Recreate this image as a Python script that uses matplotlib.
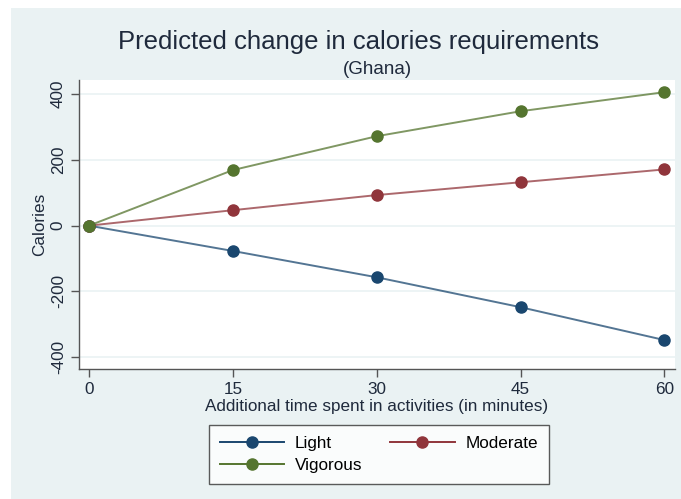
import matplotlib.pyplot as plt
from matplotlib.patches import Rectangle
from matplotlib.lines import Line2D

plt.rcParams['font.family'] = ['Liberation Sans', 'DejaVu Sans']
plt.rcParams['axes.unicode_minus'] = False

# === Data ===
minutes = [0, 15, 30, 45, 60]
light = [0, -77, -157, -248, -348]
moderate = [0, 47, 93, 132, 171]
vigorous = [0, 169, 272, 348, 406]

series = [
    ("Light", light, "#1a476f"),
    ("Moderate", moderate, "#90353b"),
    ("Vigorous", vigorous, "#55752f"),
]

bg = "#eaf2f3"
txt = "#1f2a3c"

fig = plt.figure(figsize=(6.81, 4.99), dpi=100, facecolor="white")
fig.patches.append(Rectangle((11 / 681, 0), 1, 1 - 8 / 499, transform=fig.transFigure,
                             facecolor=bg, edgecolor="none", zorder=-10))

ax = fig.add_axes([79 / 681, 1 - 369 / 499, (675 - 79) / 681, (369 - 80) / 499])
ax.set_facecolor("white")

for name, vals, col in series:
    ax.plot(minutes, vals, color=col, lw=1.4, alpha=0.75, zorder=3)
    ax.plot(minutes, vals, ls="none", marker="o", ms=8, color=col, zorder=4)

ax.set_xlim(-1.04, 61.1)
ax.set_ylim(-436, 443)
ax.set_xticks(minutes)
ax.set_yticks([-400, -200, 0, 200, 400])
ax.grid(axis="y", color=bg, lw=1.2, zorder=0)
ax.set_axisbelow(True)

for s in ["top", "right"]:
    ax.spines[s].set_visible(False)
for s in ["left", "bottom"]:
    ax.spines[s].set_color("#555555")
    ax.spines[s].set_linewidth(1.0)

ax.tick_params(axis="both", colors="#555555", labelcolor=txt, labelsize=12.3, length=6, width=1)
plt.setp(ax.get_yticklabels(), rotation=90, va="center")

ax.set_ylabel("Calories", fontsize=12.3, color=txt, labelpad=3)
ax.set_xlabel("Additional time spent in activities (in minutes)", fontsize=12.3, color=txt, labelpad=1)

fig.text(358 / 681, 1 - 42 / 499, "Predicted change in calories requirements",
         ha="center", va="center", fontsize=18.5, color=txt)
fig.text(377 / 681, 1 - 70 / 499, "(Ghana)", ha="center", va="center", fontsize=13.5, color=txt)

# === Legend (row order: Light, Moderate / Vigorous) ===
order = [0, 2, 1]
handles = [Line2D([0], [0], color=series[i][2], lw=1.4, marker="o", ms=8,
                  markeredgecolor=series[i][2], markerfacecolor=series[i][2]) for i in order]
labels = [series[i][0] for i in order]
leg = fig.legend(handles, labels, ncol=2, loc="upper left",
                 bbox_to_anchor=(209 / 681, 1 - 425 / 499), fontsize=12.3,
                 frameon=True, fancybox=False, handlelength=3.75, columnspacing=1.65,
                 labelspacing=0.45, borderpad=0.62, handletextpad=0.65, borderaxespad=0)
leg.get_frame().set_edgecolor("#333333")
leg.get_frame().set_linewidth(1.0)
for t in leg.get_texts():
    t.set_color("black")

fig.savefig("out.png", dpi=100, facecolor=fig.get_facecolor())
